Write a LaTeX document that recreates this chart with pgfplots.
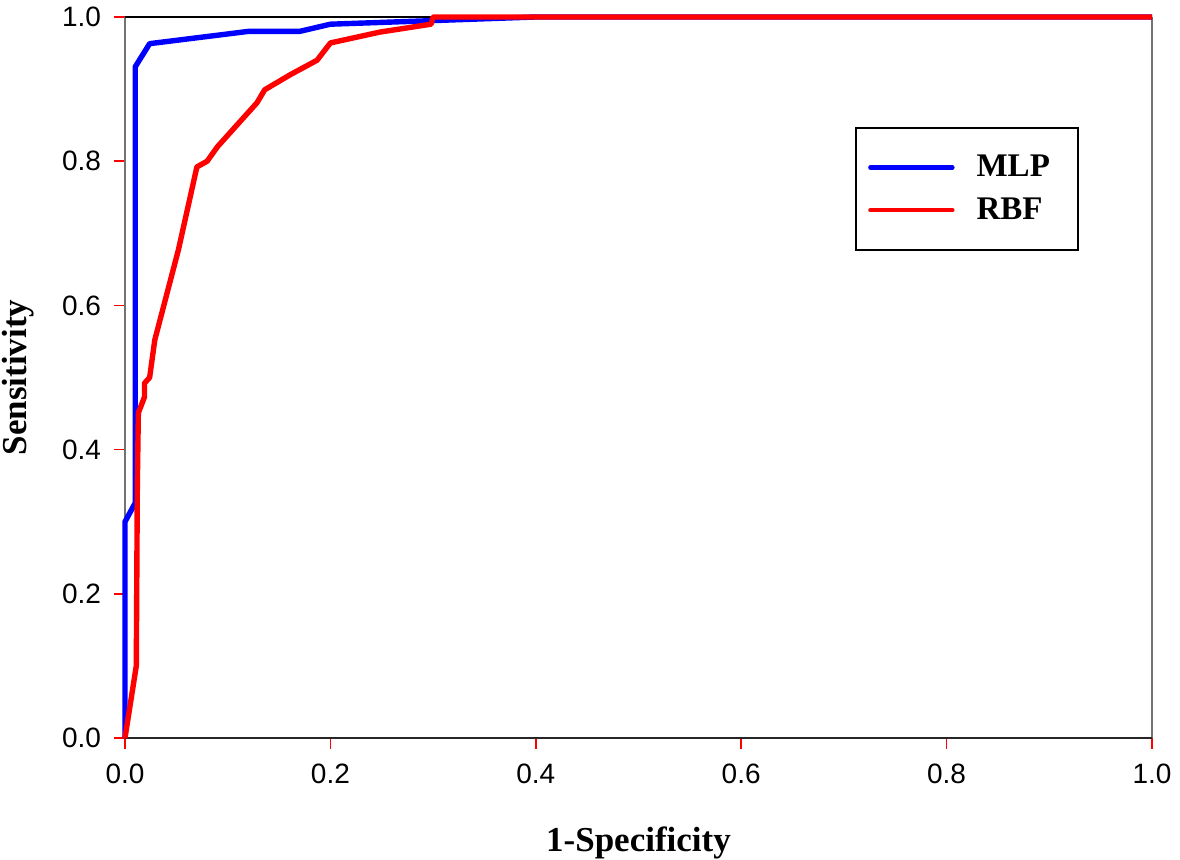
\documentclass[border=0pt]{standalone}
\usepackage{pgfplots}
\pgfplotsset{compat=1.18}
\usepackage{fontspec}
\setmainfont{Liberation Serif}
\newfontfamily\arial{Liberation Sans}
\definecolor{mlpblue}{RGB}{0,0,255}
\definecolor{rbfred}{RGB}{255,0,0}
\begin{document}
\begin{tikzpicture}
\path[use as bounding box] (-62.5pt,-61pt) rectangle (527.5pt,369pt);
\begin{axis}[
  at={(0,0)}, anchor=south west,
  scale only axis, width=513.5pt, height=360.5pt,
  xmin=0, xmax=1, ymin=0, ymax=1,
  clip=false,
  axis line style={draw=none},
  xtick={0,0.2,0.4,0.6,0.8,1.0},
  ytick={0,0.2,0.4,0.6,0.8,1.0},
  xtick pos=bottom, ytick pos=left,
  tick align=outside,
  major tick length=5.5pt,
  every tick/.style={rbfred, line width=0.8pt},
  /pgf/number format/assume math mode=true,
  /pgf/number format/.cd, fixed, fixed zerofill, precision=1, /pgfplots/.cd,
  ticklabel style={font=\arial\fontsize{14}{14}\selectfont},
  xticklabel style={yshift=-4pt},
  yticklabel style={xshift=-3pt},
  xlabel={1-Specificity},
  ylabel={Sensitivity},
  label style={font=\bfseries\fontsize{17.5}{17.5}\selectfont},
  xlabel style={at={(axis description cs:0.5,-0.1456)}, anchor=center},
  ylabel style={at={(axis description cs:-0.1042,0.5)}, anchor=center},
  legend style={at={(rel axis cs:0.711,0.847)}, anchor=north west,
    draw=black, line width=1pt,
    font=\bfseries\fontsize{16.5}{16.5}\selectfont,
    inner xsep=6pt, inner ysep=11.5pt, row sep=5pt, column sep=9pt},
  legend cell align=left,
  legend image code/.code={\draw[#1, line width=2.2pt, line cap=round] (0pt,0pt) -- (41pt,0pt);},
]
\draw[black!55, line width=1pt] (rel axis cs:0,0) -- (rel axis cs:0,1);
\draw[black!55, line width=1pt] (rel axis cs:1,0) -- (rel axis cs:1,1);
\draw[black!85, line width=1pt] (rel axis cs:0,0) -- (rel axis cs:1,0);
\draw[black, line width=0.9pt] (rel axis cs:0,1) -- (rel axis cs:1,1);

\addplot[mlpblue, line width=2.7pt, line join=round] coordinates {
(0,0) (0,0.30) (0.01,0.326) (0.01,0.931) (0.024,0.963) (0.12,0.98) (0.17,0.98)
(0.2,0.99) (0.3,0.995) (0.4,1.0) (1.0,1.0)};
\addlegendentry{\makebox[42.5pt][l]{MLP}}
\addplot[rbfred, line width=2.7pt, line join=round] coordinates {
(0,0) (0.011,0.10) (0.012,0.35) (0.013,0.451) (0.019,0.473) (0.019,0.492)
(0.024,0.50) (0.029,0.552) (0.052,0.677) (0.070,0.792) (0.08,0.80) (0.09,0.82)
(0.1285,0.881) (0.136,0.899) (0.161,0.92) (0.187,0.94) (0.2,0.964) (0.248,0.979)
(0.298,0.99) (0.3,1.0) (1.0,1.0)};
\addlegendentry{\makebox[42.5pt][l]{RBF}}
\end{axis}
\end{tikzpicture}
\end{document}
